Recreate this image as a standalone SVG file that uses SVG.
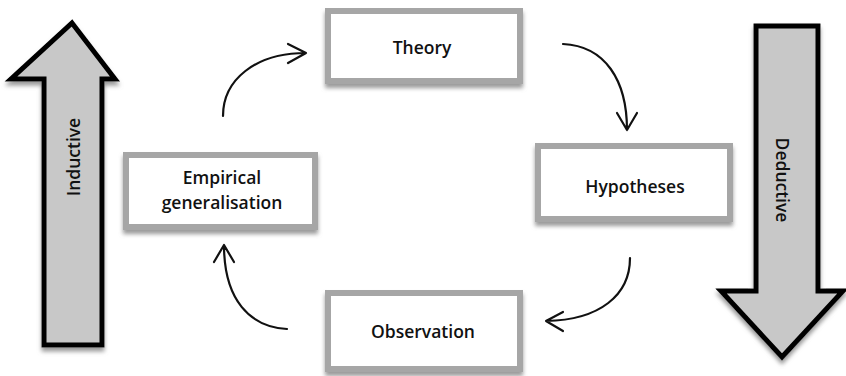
<svg xmlns="http://www.w3.org/2000/svg" width="846" height="376" viewBox="0 0 846 376">
<defs>
<filter id="sh" x="-10%" y="-10%" width="130%" height="130%">
<feGaussianBlur in="SourceAlpha" stdDeviation="2"/>
<feOffset dx="0" dy="4" result="b"/>
<feFlood flood-color="#808080" flood-opacity="0.8"/>
<feComposite in2="b" operator="in"/>
<feMerge><feMergeNode/><feMergeNode in="SourceGraphic"/></feMerge>
</filter>
<style>
.big{fill:#c8c8c8;stroke:#000;stroke-width:5;stroke-linejoin:miter}
.box{fill:#fff;stroke:#a6a6a6;stroke-width:6}
.t{font-family:"Open Sans","Liberation Sans",sans-serif;font-size:17.5px;font-weight:600;fill:#111;text-anchor:middle}
.c{fill:none;stroke:#111;stroke-width:2.2;stroke-linecap:round;stroke-linejoin:round}
</style>
</defs>
<g id="inductive">
<polygon class="big" filter="url(#sh)" points="72,23 115,79 102,79 102,345 44,345 44,79 11,79"/>
<text class="t" transform="translate(73,157) rotate(-90)" dominant-baseline="central">Inductive</text>
</g>
<g id="deductive">
<polygon class="big" filter="url(#sh)" points="756,26 818,26 818,291 843,291 782,357 721,291 756,291"/>
<text class="t" transform="translate(783,180) rotate(90)" dominant-baseline="central">Deductive</text>
</g>
<g id="theory">
<rect class="box" filter="url(#sh)" x="328" y="11" width="192" height="70"/>
<text class="t" x="422" y="54">Theory</text>
</g>
<g id="empirical">
<rect class="box" filter="url(#sh)" x="126" y="155" width="189" height="72"/>
<text class="t" x="222" y="184">Empirical</text>
<text class="t" x="222" y="209">generalisation</text>
</g>
<g id="hypotheses">
<rect class="box" filter="url(#sh)" x="538" y="146" width="192" height="73"/>
<text class="t" x="635" y="193">Hypotheses</text>
</g>
<g id="observation">
<rect class="box" filter="url(#sh)" x="328" y="293" width="192" height="76"/>
<text class="t" x="423" y="338">Observation</text>
</g>
<g id="connectors">
<path class="c" d="M223,116 C223,80 255,53 306,53 M288,44 L306,53 L288,63"/>
<path class="c" d="M563,44 C605,46 627,80 627,130 M617,113 L627,130 L637,113"/>
<path class="c" d="M630,258 C630,295 600,320 546,321 M563,312 L546,321 L563,331"/>
<path class="c" d="M287,329 C250,327 224,300 224,245 M214,262 L224,245 L234,262"/>
</g>
</svg>
